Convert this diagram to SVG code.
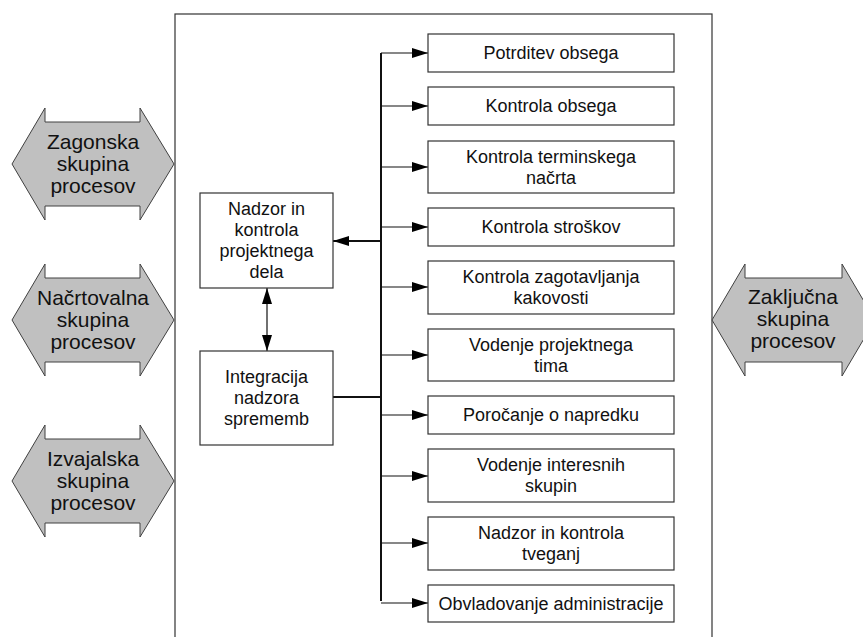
<svg xmlns="http://www.w3.org/2000/svg" width="863" height="637" viewBox="0 0 863 637">
  <style>
    .frame { fill: none; stroke: #333; stroke-width: 1.2; }
    .box { fill: #fff; stroke: #333; stroke-width: 1.2; }
    .hex { fill: #c0c0c0; stroke: #404040; stroke-width: 1; }
    .lbl { font-family: "Liberation Sans", Arial, sans-serif; font-size: 18px; fill: #111; text-anchor: middle; }
    .big { font-family: "Liberation Sans", Arial, sans-serif; font-size: 21px; fill: #111; text-anchor: middle; }
    .wire { fill: none; stroke: #111; stroke-width: 1.2; }
    .bus { fill: none; stroke: #111; stroke-width: 2; }
  </style>
  <defs>
    <marker id="head" viewBox="0 0 16 10" refX="16" refY="5" markerWidth="16" markerHeight="10" markerUnits="userSpaceOnUse" orient="auto-start-reverse">
      <path d="M0,0 L16,5 L0,10 Z" fill="#000"/>
    </marker>
  </defs>

  <rect width="863" height="637" fill="#fff"/>

  <!-- process-group frame -->
  <rect class="frame" x="175" y="14" width="537" height="640"/>

  <!-- process group double arrows -->
  <g id="zagonska">
    <path class="hex" d="M12,164 L45,108 L45,122 L140,122 L140,108 L174,164 L140,220 L140,206 L45,206 L45,220 Z"/>
    <text class="big" x="93" y="149">Zagonska</text>
    <text class="big" x="93" y="171">skupina</text>
    <text class="big" x="93" y="193">procesov</text>
  </g>
  <g id="nacrtovalna">
    <path class="hex" d="M12,320 L45,264 L45,278 L140,278 L140,264 L174,320 L140,376 L140,362 L45,362 L45,376 Z"/>
    <text class="big" x="93" y="305">Načrtovalna</text>
    <text class="big" x="93" y="327">skupina</text>
    <text class="big" x="93" y="349">procesov</text>
  </g>
  <g id="izvajalska">
    <path class="hex" d="M12,481 L45,425 L45,439 L140,439 L140,425 L174,481 L140,537 L140,523 L45,523 L45,537 Z"/>
    <text class="big" x="93" y="466">Izvajalska</text>
    <text class="big" x="93" y="488">skupina</text>
    <text class="big" x="93" y="510">procesov</text>
  </g>
  <g id="zakljucna">
    <path class="hex" d="M712,320 L745,264 L745,278 L842,278 L842,264 L875,320 L842,376 L842,362 L745,362 L745,376 Z"/>
    <text class="big" x="793" y="304">Zaključna</text>
    <text class="big" x="793" y="326">skupina</text>
    <text class="big" x="793" y="348">procesov</text>
  </g>

  <!-- connectors -->
  <g id="connectors">
    <line class="bus" x1="381" y1="53" x2="381" y2="601"/>
    <line class="bus" x1="381" y1="241" x2="333" y2="241" marker-end="url(#head)"/>
    <line class="bus" x1="333" y1="397" x2="381" y2="397"/>
    <line class="wire" x1="267" y1="288" x2="267" y2="351" marker-start="url(#head)" marker-end="url(#head)"/>
    <line class="wire" x1="381" y1="53" x2="428" y2="53" marker-end="url(#head)"/>
    <line class="wire" x1="381" y1="106" x2="428" y2="106" marker-end="url(#head)"/>
    <line class="wire" x1="381" y1="167" x2="428" y2="167" marker-end="url(#head)"/>
    <line class="wire" x1="381" y1="227" x2="428" y2="227" marker-end="url(#head)"/>
    <line class="wire" x1="381" y1="287" x2="428" y2="287" marker-end="url(#head)"/>
    <line class="wire" x1="381" y1="355" x2="428" y2="355" marker-end="url(#head)"/>
    <line class="wire" x1="381" y1="415" x2="428" y2="415" marker-end="url(#head)"/>
    <line class="wire" x1="381" y1="476" x2="428" y2="476" marker-end="url(#head)"/>
    <line class="wire" x1="381" y1="543" x2="428" y2="543" marker-end="url(#head)"/>
    <line class="wire" x1="381" y1="603" x2="428" y2="603" marker-end="url(#head)"/>
  </g>

  <!-- central nodes -->
  <g id="nadzor">
    <rect class="box" x="200" y="193" width="133" height="95"/>
    <text class="lbl" x="266.5" y="215">Nadzor in</text>
    <text class="lbl" x="266.5" y="236">kontrola</text>
    <text class="lbl" x="266.5" y="257">projektnega</text>
    <text class="lbl" x="266.5" y="278">dela</text>
  </g>
  <g id="integracija">
    <rect class="box" x="200" y="351" width="133" height="94"/>
    <text class="lbl" x="266.5" y="383">Integracija</text>
    <text class="lbl" x="266.5" y="404">nadzora</text>
    <text class="lbl" x="266.5" y="425">sprememb</text>
  </g>

  <!-- monitoring processes -->
  <g id="potrditev">
    <rect class="box" x="428" y="34" width="246" height="38"/>
    <text class="lbl" x="551" y="59">Potrditev obsega</text>
  </g>
  <g id="kontrola-obsega">
    <rect class="box" x="428" y="87" width="246" height="38"/>
    <text class="lbl" x="551" y="112">Kontrola obsega</text>
  </g>
  <g id="kontrola-terminskega">
    <rect class="box" x="428" y="141" width="246" height="52"/>
    <text class="lbl" x="551" y="162.5">Kontrola terminskega</text>
    <text class="lbl" x="551" y="183.5">načrta</text>
  </g>
  <g id="kontrola-stroskov">
    <rect class="box" x="428" y="208" width="246" height="38"/>
    <text class="lbl" x="551" y="233">Kontrola stroškov</text>
  </g>
  <g id="kakovost">
    <rect class="box" x="428" y="261" width="246" height="53"/>
    <text class="lbl" x="551" y="283">Kontrola zagotavljanja</text>
    <text class="lbl" x="551" y="304">kakovosti</text>
  </g>
  <g id="tim">
    <rect class="box" x="428" y="329" width="246" height="52"/>
    <text class="lbl" x="551" y="350.5">Vodenje projektnega</text>
    <text class="lbl" x="551" y="371.5">tima</text>
  </g>
  <g id="porocanje">
    <rect class="box" x="428" y="396" width="246" height="38"/>
    <text class="lbl" x="551" y="421">Poročanje o napredku</text>
  </g>
  <g id="interesne-skupine">
    <rect class="box" x="428" y="449" width="246" height="53"/>
    <text class="lbl" x="551" y="471">Vodenje interesnih</text>
    <text class="lbl" x="551" y="492">skupin</text>
  </g>
  <g id="tveganja">
    <rect class="box" x="428" y="517" width="246" height="53"/>
    <text class="lbl" x="551" y="539">Nadzor in kontrola</text>
    <text class="lbl" x="551" y="560">tveganj</text>
  </g>
  <g id="administracija">
    <rect class="box" x="428" y="585" width="246" height="37"/>
    <text class="lbl" x="551" y="609.5">Obvladovanje administracije</text>
  </g>
</svg>
